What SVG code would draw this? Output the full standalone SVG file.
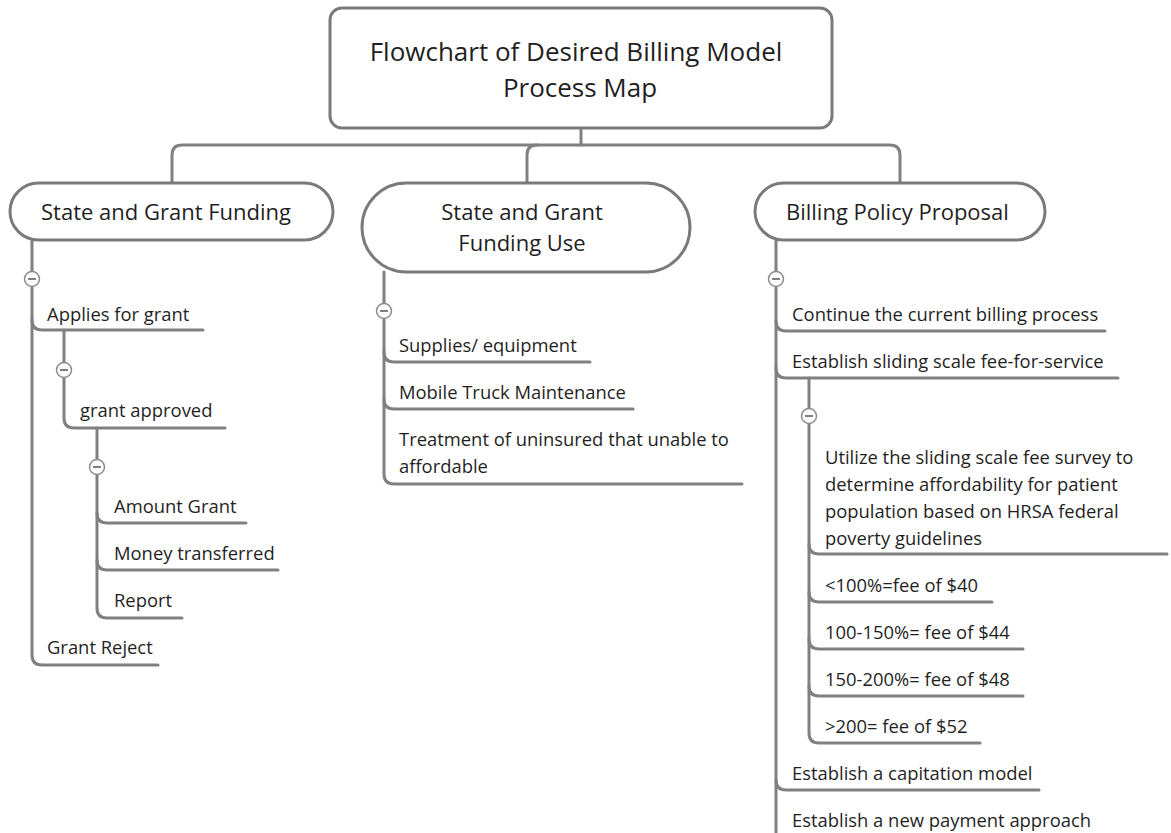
<svg xmlns="http://www.w3.org/2000/svg" width="1171" height="833" viewBox="0 0 1171 833">
  <defs>
    <style>
      .box { fill: #ffffff; stroke: #7a7a7a; stroke-width: 3; }
      .ln { fill: none; stroke: #808080; stroke-width: 3; stroke-linecap: round; stroke-linejoin: round; }
      .tog circle { fill: #ffffff; stroke: #8c8c8c; stroke-width: 1.5; }
      .tog line { stroke: #555555; stroke-width: 1.5; }
      text { font-family: "Open Sans", "Noto Sans", "Liberation Sans", sans-serif; fill: #1f1f1f; }
      .title { font-size: 26px; text-anchor: middle; }
      .topic { font-size: 22px; }
      .mid { text-anchor: middle; }
      .item { font-size: 18.4px; }
    </style>
    <g id="toggle" class="tog">
      <circle cx="0" cy="0" r="7.5"/>
      <line x1="-4" y1="0" x2="4" y2="0"/>
    </g>
  </defs>

  <!-- connectors -->
  <g id="connectors">
    <!-- root to main topics -->
    <path class="ln" d="M581 128 V145"/>
    <path class="ln" d="M172 183 V155 Q172 145 182 145 H890 Q900 145 900 155 V183"/>
    <path class="ln" d="M527 183 V155 Q527 145 537 145"/>

    <!-- State and Grant Funding -->
    <path class="ln" d="M32 240 V655 Q32 665 42 665 H158"/>
    <path class="ln" d="M32 320 Q32 330 42 330 H203"/>
    <path class="ln" d="M64 330 V418 Q64 428 74 428 H225"/>
    <path class="ln" d="M97 428 V608 Q97 618 107 618 H182"/>
    <path class="ln" d="M97 513 Q97 523 107 523 H246"/>
    <path class="ln" d="M97 560 Q97 570 107 570 H278"/>

    <!-- State and Grant Funding Use -->
    <path class="ln" d="M384 272 V474 Q384 484 394 484 H742"/>
    <path class="ln" d="M384 352 Q384 362 394 362 H590"/>
    <path class="ln" d="M384 399 Q384 409 394 409 H633"/>

    <!-- Billing Policy Proposal -->
    <path class="ln" d="M776 240 V840"/>
    <path class="ln" d="M776 321 Q776 331 786 331 H1105"/>
    <path class="ln" d="M776 368 Q776 378 786 378 H1118"/>
    <path class="ln" d="M776 780 Q776 790 786 790 H1039"/>
    <path class="ln" d="M809 378 V733 Q809 743 819 743 H980"/>
    <path class="ln" d="M809 544 Q809 554 819 554 H1167"/>
    <path class="ln" d="M809 592 Q809 602 819 602 H992"/>
    <path class="ln" d="M809 639 Q809 649 819 649 H1023"/>
    <path class="ln" d="M809 686 Q809 696 819 696 H1023"/>

    <!-- collapse toggles -->
    <use href="#toggle" x="32" y="279"/>
    <use href="#toggle" x="64" y="370"/>
    <use href="#toggle" x="97" y="467"/>
    <use href="#toggle" x="384" y="311"/>
    <use href="#toggle" x="776" y="279"/>
    <use href="#toggle" x="809" y="416"/>
  </g>

  <!-- root -->
  <g id="root">
    <rect class="box" x="330" y="8" width="502" height="120" rx="12"/>
    <text class="title" x="576" y="61">Flowchart of Desired Billing Model</text>
    <text class="title" x="580" y="97">Process Map</text>
  </g>

  <!-- main topics -->
  <g id="topic-funding">
    <rect class="box" x="10" y="183" width="323" height="57" rx="28.5"/>
    <text class="topic" x="41" y="220">State and Grant Funding</text>
  </g>
  <g id="topic-funding-use">
    <rect class="box" x="362" y="183" width="328" height="89" rx="44.5"/>
    <text class="topic mid" x="522" y="220">State and Grant</text>
    <text class="topic mid" x="522" y="251">Funding Use</text>
  </g>
  <g id="topic-billing">
    <rect class="box" x="755" y="183" width="290" height="57" rx="28.5"/>
    <text class="topic" x="786" y="220">Billing Policy Proposal</text>
  </g>

  <!-- State and Grant Funding subtopics -->
  <g id="applies"><text class="item" x="47" y="321">Applies for grant</text></g>
  <g id="approved"><text class="item" x="80" y="417">grant approved</text></g>
  <g id="amount"><text class="item" x="114" y="513">Amount Grant</text></g>
  <g id="transferred"><text class="item" x="114" y="560">Money transferred</text></g>
  <g id="report"><text class="item" x="114" y="607">Report</text></g>
  <g id="reject"><text class="item" x="47" y="654">Grant Reject</text></g>

  <!-- Funding Use subtopics -->
  <g id="supplies"><text class="item" x="399" y="352">Supplies/ equipment</text></g>
  <g id="truck"><text class="item" x="399" y="399">Mobile Truck Maintenance</text></g>
  <g id="treatment">
    <text class="item" x="399" y="446">Treatment of uninsured that unable to</text>
    <text class="item" x="399" y="473">affordable</text>
  </g>

  <!-- Billing Policy subtopics -->
  <g id="continue"><text class="item" x="792" y="321">Continue the current billing process</text></g>
  <g id="sliding"><text class="item" x="792" y="368">Establish sliding scale fee-for-service</text></g>
  <g id="survey">
    <text class="item" x="825" y="464">Utilize the sliding scale fee survey to</text>
    <text class="item" x="825" y="491">determine affordability for patient</text>
    <text class="item" x="825" y="518">population based on HRSA federal</text>
    <text class="item" x="825" y="545">poverty guidelines</text>
  </g>
  <g id="fee40"><text class="item" x="825" y="592">&lt;100%=fee of $40</text></g>
  <g id="fee44"><text class="item" x="825" y="639">100-150%= fee of $44</text></g>
  <g id="fee48"><text class="item" x="825" y="686">150-200%= fee of $48</text></g>
  <g id="fee52"><text class="item" x="825" y="733">&gt;200= fee of $52</text></g>
  <g id="capitation"><text class="item" x="792" y="780">Establish a capitation model</text></g>
  <g id="payment"><text class="item" x="792" y="827">Establish a new payment approach</text></g>
</svg>
